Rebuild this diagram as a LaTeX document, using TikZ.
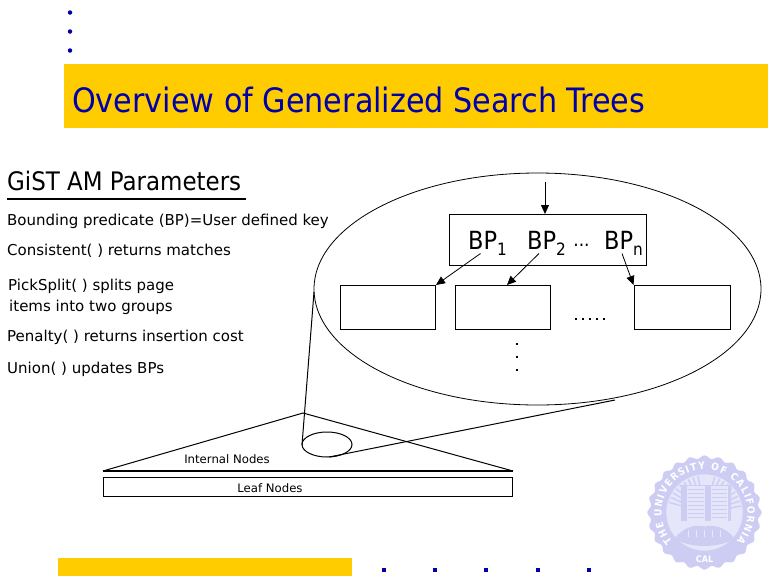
\documentclass[tikz,border=0pt]{standalone}
\usepackage{fontspec}
\setmainfont{DejaVu Sans}
\newfontfamily\condf{DejaVu Sans Condensed}
\usetikzlibrary{arrows.meta,decorations.text,calc}
\definecolor{gold}{HTML}{FFCC00}
\definecolor{navy}{HTML}{0000AA}
\definecolor{seal}{HTML}{CDCDF4}
\definecolor{seallt}{HTML}{E6E6FA}
\newcommand{\subdown}[1]{\raisebox{-6pt}{\fontsize{17}{17}\selectfont #1}}
\tikzset{
  base/.style={x=1pt,y=-1pt},
  line/.style={draw=black,line width=1pt},
  thin line/.style={draw=black,line width=0.8pt},
  arr/.style={thin line,-{Triangle[length=9pt,width=8pt]}},
  lbl/.style={anchor=west,inner sep=0pt,font=\fontsize{15}{16}\selectfont},
  small/.style={inner sep=0pt,font=\fontsize{11.7}{12}\selectfont},
  bp/.style={inner sep=0pt,anchor=base west,font=\condf\fontsize{25}{26}\selectfont},
  dotn/.style={fill=navy,inner sep=0pt,minimum size=4.5pt},
  sealline/.style={draw=seal,line width=1.6pt}
}
\begin{document}
\begin{tikzpicture}[base]
\useasboundingbox (0,0) rectangle (768,576);
\fill[white] (0,0) rectangle (768,576);
% slide decoration
\foreach \n/\y in {a/12.5,b/31.5,c/50.5}{\node[dotn,circle] (d\n) at (70,\y) {};}
\fill[gold] (64,64) rectangle (768,128);
\node[anchor=west,inner sep=0pt,text=navy,font=\condf\fontsize{33.6}{35}\selectfont] (title) at (72,100) {Overview of Generalized Search Trees};
\fill[gold] (58,558) rectangle (352,576);
\foreach \n/\x in {a/384,b/435,c/486,d/538,e/589}{\node[dotn,minimum size=4pt] (s\n) at (\x,569.5) {};}
% seal
\begin{scope}[shift={(704.5,512.5)},y=1pt]
\fill[seal] plot[domain=0:360,samples=240,smooth cycle] ({(55.5+1.6*cos(24*\x))*cos(\x)},{(55.5+1.6*cos(24*\x))*sin(\x)});
\path[postaction={decorate,decoration={text along path,text align=fit to path,text={|\condf\bfseries\fontsize{10}{10}\selectfont\color{white}|THE UNIVERSITY OF CALIFORNIA}}}] (222:43) arc[start angle=222,end angle=-42,radius=43];
\node[inner sep=0pt,text=white,font=\condf\bfseries\fontsize{9}{9}\selectfont] (cal) at (0,-47) {CAL};
\fill[seallt] (0,0) circle (39);
\draw[sealline] (0,0) circle (39);
\foreach \a in {100,108,...,170}{\draw[sealline,line width=1.4pt] (\a:24) -- (\a:37);}
\foreach \a in {10,18,...,80}{\draw[sealline,line width=1.4pt] (\a:24) -- (\a:37);}
\fill[seal] (-24,-8) rectangle (26,28);
\fill[seallt] (-18,-8) rectangle (0,27);
\fill[seallt] (6,-8) rectangle (23,27);
\foreach \y in {-5,-1,...,25}{\draw[seal,line width=1.3pt] (-17,\y) -- (-1,\y); \draw[seal,line width=1.3pt] (7,\y) -- (22,\y);}
\fill[seal] (-30,-26) .. controls (-20,-14) and (-10,-12) .. (0,-14) .. controls (10,-12) and (20,-14) .. (30,-26) .. controls (15,-36) and (-15,-36) .. (-30,-26);
\foreach \x in {-16,-8,0,8,16}{\draw[seallt,line width=1pt] (\x,-24) -- (\x,-17);}
\end{scope}
% left text
\node[anchor=west,inner sep=0pt,font=\condf\fontsize{25.5}{27}\selectfont] (head) at (7,181) {GiST AM Parameters};
\coordinate (ula) at (7,198.5);
\coordinate (ulb) at (246,198.5);
\draw[line width=2pt] (ula) -- (ulb);
\node[lbl] (t1) at (7,221) {Bounding predicate (BP)=User defined key};
\node[lbl] (t2) at (7,251) {Consistent( ) returns matches};
\node[lbl] (t3) at (8,286) {PickSplit( ) splits page};
\node[lbl] (t3b) at (9,307.5) {items into two groups};
\node[lbl] (t4) at (7,337) {Penalty( ) returns insertion cost};
\node[lbl] (t5) at (7,369) {Union( ) updates BPs};
% big ellipse
\draw[thin line] (537.5,289) ellipse[x radius=223.5,y radius=116];
\coordinate (top) at (545,182);
\node[line,minimum width=197pt,minimum height=51pt,inner sep=0pt] (root) at (547.5,240) {};
\node[bp] (bp1) at (468,249) {BP\subdown{1}};
\node[bp] (bp2) at (527,249) {BP\subdown{2}};
\node[bp] (bpn) at (604,249) {BP\subdown{n}};
\node[inner sep=0pt,font=\condf\fontsize{19}{19}\selectfont] (dots) at (581.5,245) {...};
\node[line,minimum width=95pt,minimum height=44pt,inner sep=0pt] (c1) at (388,307.5) {};
\node[line,minimum width=95pt,minimum height=44pt,inner sep=0pt] (c2) at (503,307.5) {};
\node[line,minimum width=96pt,minimum height=44pt,inner sep=0pt] (c3) at (682,307.5) {};
\coordinate (a1) at (480.5,253.5);
\coordinate (a2) at (539,253.5);
\coordinate (a3) at (622,253.5);
\draw[arr] (top) -- (root.north -| top);
\draw[arr] (a1) -- (c1.north east);
\draw[arr] (a2) -- (507,285);
\draw[arr] (a3) -- (c3.north west);
\foreach \i in {0,...,4}{\fill (575+\i*7,318) rectangle ++(1.6,1.6);}
\foreach \y in {343,356,369}{\fill (516,\y) rectangle ++(2,2);}
% tree
\coordinate (apex) at (303,413);
\coordinate (bl) at (103,471);
\coordinate (br) at (513,471);
\draw[line] (bl) -- (apex) -- (br);
\draw[line width=1.5pt] (bl) -- (br);
\node[line,minimum width=409pt,minimum height=19pt,inner sep=0pt] (leaf) at (307.5,487) {};
\node[small] (int) at (227,459.5) {Internal Nodes};
\node[small] (lf) at (270,488.5) {Leaf Nodes};
\draw[line] (327,444.5) ellipse[x radius=25,y radius=12.5];
\coordinate (zl) at (302,445);
\coordinate (zb) at (329,457);
\coordinate (el) at (314,292);
\coordinate (er) at (615,400);
\draw[line] (zl) -- (el);
\draw[line] (zb) -- (er);
\end{tikzpicture}
\end{document}
